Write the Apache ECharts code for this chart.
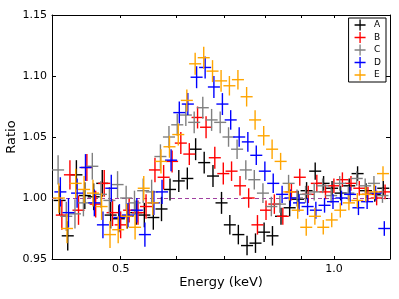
<!DOCTYPE html>
<html>
<head>
<meta charset="utf-8">
<script src="https://cdn.jsdelivr.net/npm/echarts@6/dist/echarts.min.js"></script>
<style>html,body{margin:0;padding:0;background:#fff;}#c{width:399px;height:299px;}</style>
</head>
<body>
<div id="c"></div>
<script>
const seriesNames = ['A','B','C','D','E'];
const colors = ['#000000','#ff0000','#808080','#0000ff','#ffa500'];
const xTickValues = [0.5,0.6,0.7,0.8,0.9,1.0];
const xLabelValues = [0.5,1.0];

const energyA = [0.410,0.421,0.433,0.445,0.458,0.471,0.484,0.497,0.511,0.526,0.540,0.556,0.571,0.587,0.604,0.621,0.638,0.656,0.675,0.694,0.713,0.733,0.754,0.775,0.797,0.819,0.842,0.866,0.890,0.915,0.941,0.967,0.994,1.022,1.051,1.080,1.110,1.142,1.174];
const ratioA = [0.998,0.969,1.019,1.002,1.001,1.012,0.986,0.983,0.985,0.988,0.986,0.984,0.991,1.007,1.014,1.016,1.040,1.029,1.018,0.996,0.978,0.970,0.961,0.963,0.972,0.969,0.985,0.992,0.999,1.006,1.022,1.012,1.008,1.004,1.010,1.020,1.006,1.003,1.008];

const energyB = [0.413,0.424,0.436,0.448,0.461,0.474,0.487,0.500,0.514,0.529,0.543,0.559,0.575,0.591,0.608,0.625,0.642,0.660,0.679,0.698,0.717,0.737,0.758,0.780,0.802,0.824,0.847,0.871,0.895,0.920,0.946,0.973,1.000,1.028,1.057,1.086,1.117,1.149,1.181];
const ratioB = [0.986,1.019,0.990,1.025,0.995,1.012,0.988,0.978,0.990,0.988,0.993,1.023,1.017,1.030,1.045,1.036,1.066,1.058,1.033,1.020,1.022,1.010,1.000,0.978,0.990,0.995,0.985,1.005,1.017,1.003,1.012,1.005,1.010,1.015,1.012,1.008,1.003,1.000,1.005];

const energyC = [0.408,0.419,0.431,0.443,0.456,0.469,0.482,0.495,0.509,0.523,0.538,0.553,0.569,0.585,0.601,0.618,0.635,0.653,0.672,0.691,0.710,0.730,0.751,0.772,0.794,0.816,0.839,0.863,0.887,0.912,0.938,0.964,0.991,1.019,1.048,1.077,1.107,1.139,1.171];
const ratioC = [1.023,0.985,0.987,0.996,1.026,1.003,0.998,1.011,1.000,0.996,1.006,1.005,1.034,1.050,1.060,1.068,1.062,1.074,1.064,1.062,1.050,1.040,1.023,1.015,1.004,0.993,0.995,1.012,1.000,1.003,1.005,1.010,1.002,1.012,1.004,1.016,1.010,1.012,1.002];

const energyD = [0.411,0.422,0.434,0.446,0.459,0.472,0.485,0.498,0.512,0.527,0.541,0.557,0.572,0.589,0.605,0.622,0.640,0.658,0.677,0.696,0.715,0.735,0.756,0.777,0.799,0.821,0.845,0.868,0.893,0.918,0.943,0.970,0.997,1.025,1.054,1.083,1.114,1.145,1.178];
const ratioD = [1.005,0.988,1.004,1.025,0.996,0.978,1.008,0.984,0.986,0.990,0.970,0.996,1.005,1.031,1.070,1.077,1.099,1.107,1.091,1.077,1.064,1.050,1.046,1.035,1.022,1.012,1.003,1.000,0.996,0.993,0.990,0.994,0.997,1.000,1.003,0.992,0.997,1.004,0.975];

const energyE = [0.409,0.420,0.432,0.444,0.457,0.470,0.483,0.496,0.510,0.524,0.539,0.555,0.570,0.586,0.603,0.620,0.637,0.655,0.674,0.693,0.712,0.732,0.753,0.774,0.796,0.818,0.841,0.865,0.889,0.914,0.940,0.966,0.993,1.021,1.050,1.079,1.109,1.141,1.173];
const ratioE = [1.000,0.975,1.012,1.007,1.004,0.993,0.970,0.974,0.985,0.976,1.008,0.996,1.030,1.042,1.052,1.080,1.110,1.115,1.104,1.096,1.092,1.097,1.083,1.064,1.051,1.040,1.030,1.005,0.990,0.976,0.985,0.976,0.982,0.990,0.996,0.998,1.003,1.005,1.020];

const ratioErr = [0.012,0.012,0.012,0.011,0.011,0.011,0.011,0.011,0.010,0.010,0.010,0.010,0.010,0.009,0.009,0.009,0.009,0.009,0.009,0.009,0.008,0.008,0.008,0.008,0.008,0.008,0.007,0.007,0.007,0.007,0.007,0.006,0.006,0.006,0.006,0.006,0.006,0.006,0.006];

const binHalfLog = 0.0085;

function build(energy, ratio) {
  return energy.map((e, i) => [e, ratio[i], ratioErr[i], e * Math.pow(10, -binHalfLog), e * Math.pow(10, binHalfLog)]);
}
const allEnergy = [energyA, energyB, energyC, energyD, energyE];
const allRatio = [ratioA, ratioB, ratioC, ratioD, ratioE];

function renderItem(params, api) {
  const e = api.value(0), r = api.value(1), er = api.value(2), lo = api.value(3), hi = api.value(4);
  const pL = api.coord([lo, r]), pR = api.coord([hi, r]);
  const pT = api.coord([e, r + er]), pB = api.coord([e, r - er]);
  const style = { stroke: api.visual('color'), lineWidth: 1.4 };
  return {
    type: 'group',
    children: [
      { type: 'line', shape: { x1: pL[0], y1: pL[1], x2: pR[0], y2: pR[1] }, style: style },
      { type: 'line', shape: { x1: pT[0], y1: pT[1], x2: pB[0], y2: pB[1] }, style: style }
    ]
  };
}

const plusIcon = 'path://M4.4,0H5.6V4.4H10V5.6H5.6V10H4.4V5.6H0V4.4H4.4Z';
const font = 'DejaVu Sans';

const series = seriesNames.map((n, k) => {
  const s = {
    name: n,
    type: 'custom',
    renderItem: renderItem,
    clip: true,
    itemStyle: { color: colors[k] },
    encode: { x: 0, y: 1 },
    data: build(allEnergy[k], allRatio[k]),
    z: 2 + k
  };
  if (k === 0) {
    s.markLine = {
      silent: true, symbol: 'none', label: { show: false },
      lineStyle: { color: '#a040a0', type: [4, 3], width: 1.2 },
      data: [{ yAxis: 1 }],
      z: 1
    };
  }
  return s;
});

const xAxisBase = {
  type: 'log', min: 0.4, max: 1.2,
  axisLine: { show: true, onZero: false, lineStyle: { color: '#000', width: 1 } },
  splitLine: { show: false }, minorTick: { show: false }
};

const chart = echarts.init(document.getElementById('c'), null, { renderer: 'canvas' });
chart.setOption({
  animation: false,
  backgroundColor: '#fff',
  textStyle: { fontFamily: font },
  grid: { left: 52, right: 9, top: 15, bottom: 40, containLabel: false, outerBoundsMode: 'none' },
  legend: {
    orient: 'vertical', right: 13, top: 18,
    itemWidth: 12, itemHeight: 11, itemGap: 1.5,
    padding: [1.5, 5, 1.5, 6],
    borderColor: '#000', borderWidth: 1, borderRadius: 0,
    backgroundColor: '#fff',
    textStyle: { fontFamily: font, fontSize: 9, color: '#000', padding: [0, 0, 0, 3] },
    data: seriesNames.map(n => ({ name: n, icon: plusIcon }))
  },
  xAxis: [
    Object.assign({}, xAxisBase, {
      position: 'bottom',
      name: 'Energy (keV)', nameLocation: 'middle', nameGap: 17, nameMoveOverlap: false,
      nameTextStyle: { fontFamily: font, fontSize: 13, color: '#000' },
      axisTick: { show: true, inside: true, length: 3, customValues: xTickValues, lineStyle: { color: '#000' } },
      axisLabel: { show: true, customValues: xLabelValues, margin: 5, fontFamily: font, fontSize: 11, color: '#000',
        formatter: v => Number(v).toFixed(1) }
    }),
    Object.assign({}, xAxisBase, {
      position: 'top',
      axisTick: { show: true, inside: true, length: 3, customValues: xTickValues, lineStyle: { color: '#000' } },
      axisLabel: { show: false }
    })
  ],
  yAxis: [
    {
      type: 'value', min: 0.95, max: 1.15, interval: 0.05, position: 'left',
      name: 'Ratio', nameLocation: 'middle', nameGap: 34, nameMoveOverlap: false,
      nameTextStyle: { fontFamily: font, fontSize: 13, color: '#000' },
      axisLine: { show: true, lineStyle: { color: '#000', width: 1 } },
      axisTick: { show: true, inside: true, length: 4, lineStyle: { color: '#000' } },
      axisLabel: { fontFamily: font, fontSize: 11, color: '#000', margin: 5, formatter: v => v.toFixed(2) },
      splitLine: { show: false }
    },
    {
      type: 'value', min: 0.95, max: 1.15, interval: 0.05, position: 'right',
      axisLine: { show: true, lineStyle: { color: '#000', width: 1 } },
      axisTick: { show: true, inside: true, length: 4, lineStyle: { color: '#000' } },
      axisLabel: { show: false },
      splitLine: { show: false }
    }
  ],
  series: series
});
</script>
</body>
</html>
